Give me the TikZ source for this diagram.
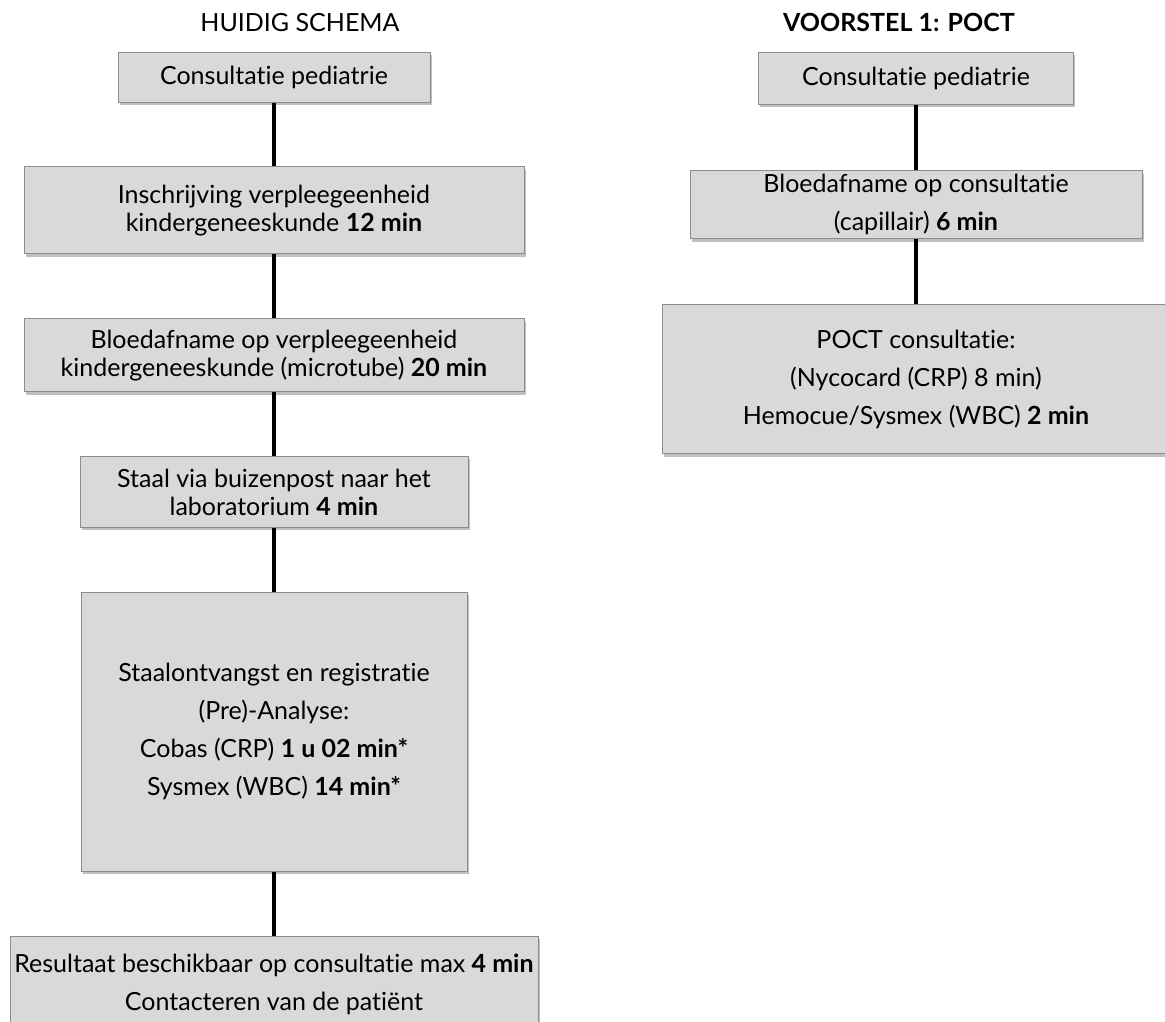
\documentclass[tikz,border=0pt]{standalone}
\usepackage{fontspec}
\setmainfont{Lato}[Ligatures=NoCommon]
\usetikzlibrary{positioning,shadows,backgrounds}
\definecolor{boxfill}{RGB}{217,217,217}
\definecolor{boxline}{RGB}{140,140,140}

\begin{document}
\begin{tikzpicture}[x=1pt,y=-1pt,
	node distance=64pt,
	stap/.style={draw=boxline,line width=0.8pt,fill=boxfill,
		drop shadow={shadow xshift=1.5pt,shadow yshift=-3pt,fill=black,opacity=.25},
		align=center,inner sep=1pt,font=\fontsize{25}{38}\selectfont},
	krap/.style={stap,font=\fontsize{25}{28}\selectfont},
	titel/.style={anchor=base,inner sep=0pt,font=\fontsize{25}{28}\selectfont},
	lijn/.style={line width=4pt}]
	\useasboundingbox (0,0) rectangle (1165,1022);
	% huidig schema
	\node[titel] (titelhs) at (300,32) {HUIDIG SCHEMA};
	\node[stap,minimum width=312pt,minimum height=50pt] (hs1) at (274,77) {Consultatie pediatrie};
	\node[krap,minimum width=500pt,minimum height=87pt,below=of hs1] (hs2)
		{Inschrijving verpleegeenheid\\kindergeneeskunde \textbf{12 min}};
	\node[krap,minimum width=500pt,minimum height=73pt,below=of hs2] (hs3)
		{Bloedafname op verpleegeenheid\\kindergeneeskunde (microtube) \textbf{20 min}};
	\node[krap,minimum width=388pt,minimum height=71pt,below=of hs3] (hs4)
		{Staal via buizenpost naar het\\laboratorium \textbf{4 min}};
	\node[stap,minimum width=386pt,minimum height=279pt,below=of hs4] (hs5)
		{Staalontvangst en registratie\\(Pre)-Analyse:\\Cobas (CRP) \textbf{1 u 02 min*}\\Sysmex (WBC) \textbf{14 min*}};
	\node[stap,minimum width=528pt,minimum height=96pt,below=of hs5] (hs6)
		{Resultaat beschikbaar op consultatie max \textbf{4 min}\\Contacteren van de patiënt};
	% voorstel 1
	\node[titel,font=\fontsize{25}{28}\selectfont\bfseries] (titelvs) at (899,32) {VOORSTEL 1: POCT};
	\node[stap,minimum width=315pt,minimum height=52pt] (vs1) at (916,78) {Consultatie pediatrie};
	\node[stap,minimum width=452pt,minimum height=68pt,below=66pt of vs1] (vs2)
		{Bloedafname op consultatie\\(capillair) \textbf{6 min}};
	\node[stap,minimum width=508pt,minimum height=149pt,below=65pt of vs2] (vs3)
		{POCT consultatie:\\(Nycocard (CRP) 8 min)\\Hemocue/Sysmex (WBC) \textbf{2 min}};
	\begin{scope}[on background layer]
		\draw[lijn] (hs1) -- (hs2);
		\draw[lijn] (hs2) -- (hs3);
		\draw[lijn] (hs3) -- (hs4);
		\draw[lijn] (hs4) -- (hs5);
		\draw[lijn] (hs5) -- (hs6);
		\draw[lijn] (vs1) -- (vs2);
		\draw[lijn] (vs2) -- (vs3);
	\end{scope}
\end{tikzpicture}
\end{document}
